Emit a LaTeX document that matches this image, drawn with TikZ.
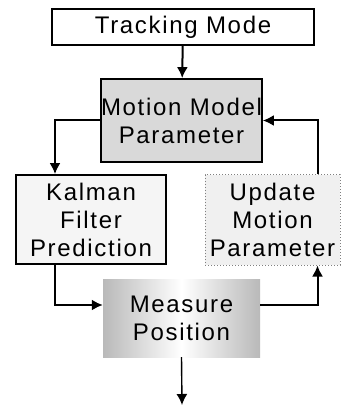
\documentclass[tikz,border=0pt]{standalone}
\usepackage{fontspec}
\setmainfont[LetterSpace=7]{Liberation Sans}
\usetikzlibrary{arrows.meta}

\tikzset{
  blk/.style={inner sep=0pt, align=center, font=\fontsize{24}{28}\selectfont},
  flow/.style={line width=2pt, -{Latex[length=11pt,width=11pt]}}
}

\begin{document}
\begin{tikzpicture}[x=1pt,y=-1pt]
	\useasboundingbox (0,0) rectangle (347,411);
	\node[blk, draw, line width=1.8pt, minimum width=262pt, minimum height=36pt] (track) at (183,27) {Tracking Mode};
	\node[blk, draw, line width=1.8pt, fill=gray!30, minimum width=157pt, minimum height=83pt] (motion) at (181.5,120.5) {Motion Model\\Parameter};
	\node[blk, draw, line width=1.8pt, fill=gray!8, minimum width=150pt, minimum height=89pt] (kalman) at (91,219.5) {Kalman\\Filter\\Prediction};
	\node[blk, draw=gray, dotted, line width=1pt, fill=gray!12, minimum width=135pt, minimum height=90pt] (update) at (272.5,220) {Update\\Motion\\Parameter};
	\node[blk, left color=gray!55, right color=gray!55, middle color=white, minimum width=157pt, minimum height=78pt] (measure) at (181.5,318) {Measure\\Position};
	\coordinate (out) at (182,405);

	\draw[flow] (track) -- (motion);
	\draw[flow] (motion.west) -| ([xshift=-36pt]kalman.north);
	\draw[flow] ([xshift=-36pt]kalman.south) |- ([yshift=13pt]measure.west);
	\draw[flow] ([yshift=13pt]measure.east) -| ([xshift=45pt]update.south);
	\draw[flow] ([xshift=45pt]update.north) |- (motion.east);
	\draw[flow, line width=1.4pt] (measure.south) -- (out);
\end{tikzpicture}
\end{document}
